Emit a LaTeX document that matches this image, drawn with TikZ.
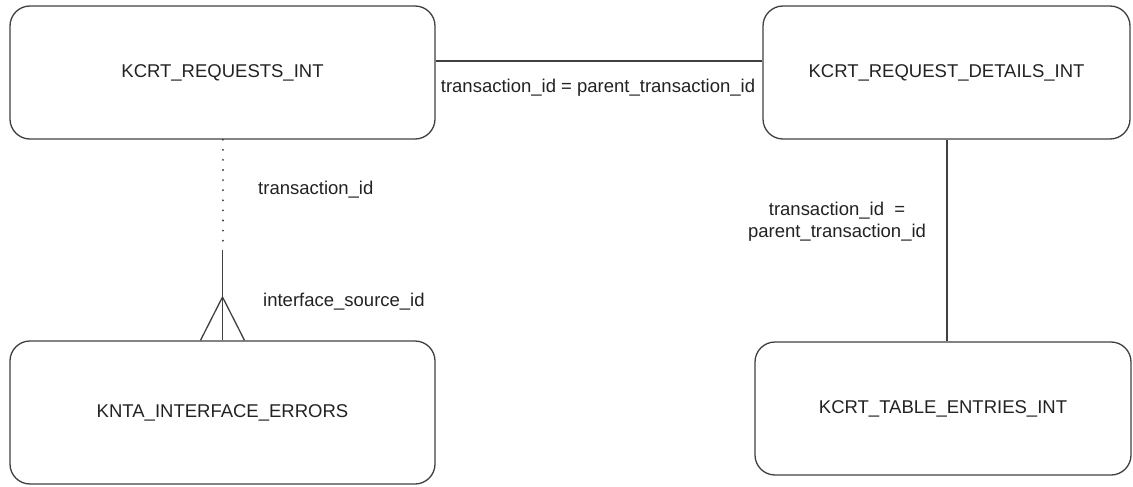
\documentclass[tikz,border=0pt]{standalone}
\usepackage{fontspec}
\setmainfont{Liberation Sans}
\usetikzlibrary{positioning,calc}
\definecolor{edgegray}{HTML}{404040}
\definecolor{inkgray}{HTML}{222222}
\tikzset{
  table/.style={draw=edgegray, line width=1.3pt, rounded corners=20pt,
    text=inkgray, font=\fontsize{18.5}{22}\selectfont},
  rel/.style={draw=edgegray, line width=1.3pt},
  lbl/.style={text=inkgray, font=\fontsize{18.5}{22}\selectfont, inner sep=0pt}
}
\begin{document}
\begin{tikzpicture}[x=1pt, y=-1pt]
        \useasboundingbox (0,0) rectangle (1133,487);

        % Tables
        \node[table, minimum width=425pt, minimum height=133pt] (req) at (222.5,72.5) {KCRT\_REQUESTS\_INT};
        \node[table, minimum width=367pt, minimum height=133pt] (det) at (946.5,72.5) {KCRT\_REQUEST\_DETAILS\_INT};
        \node[table, minimum width=425pt, minimum height=143pt] (err) at (222.5,412.5) {KNTA\_INTERFACE\_ERRORS};
        \node[table, minimum width=376pt, minimum height=133pt] (ent) at (943,408.5) {KCRT\_TABLE\_ENTRIES\_INT};

        % Coordinates
        \coordinate (join) at (600,61);
        \coordinate (opt) at (222.5,250);
        \coordinate (crow) at (222.5,297);

        % Relations
        \draw[rel] (req.east |- join) -- (det.west |- join);
        \draw[rel, line width=2pt, line cap=round, dash pattern=on 0.1pt off 10pt] (req.south) -- (opt);
        \draw[rel] (opt) -- (err.north);
        \draw[rel] ([xshift=-22pt]err.north) -- (crow) -- ([xshift=22pt]err.north);
        \draw[rel] (det.south -| 947,0) -- (ent.north -| 947,0);

        % Labels
        \node[lbl] (reqdet) at (598,88) {transaction\_id = parent\_transaction\_id};
        \node[lbl, anchor=west] (reqkey) at (258,190) {transaction\_id};
        \node[lbl, anchor=west] (errkey) at (263,302) {interface\_source\_id};
        \node[lbl, align=center] (detent) at (837,222) {transaction\_id \ =\\parent\_transaction\_id};
    \end{tikzpicture}
\end{document}
